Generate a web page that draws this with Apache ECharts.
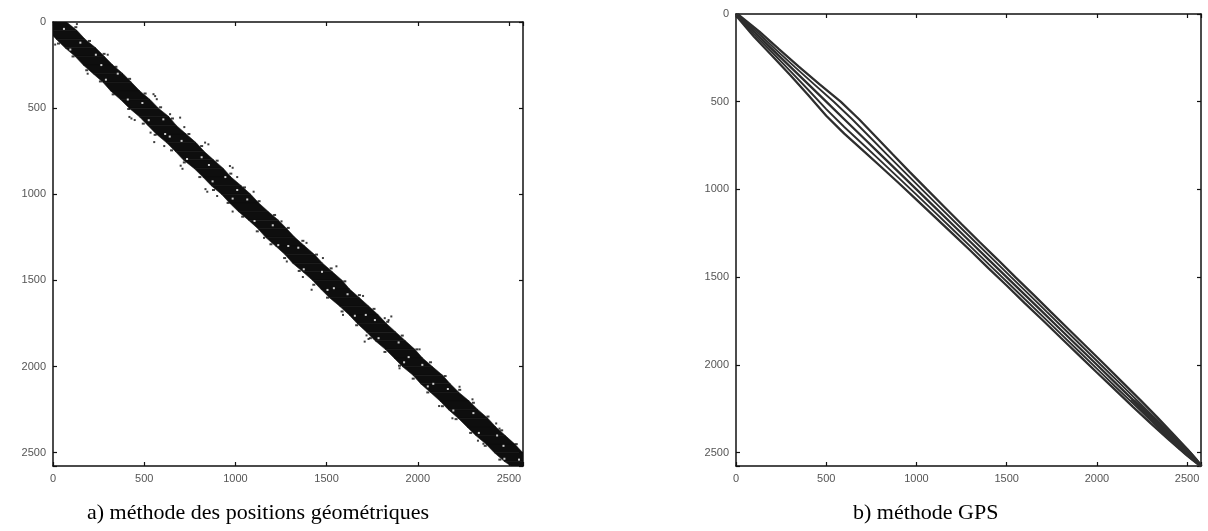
<!DOCTYPE html>
<html>
<head>
<meta charset="utf-8">
<script src="https://cdn.jsdelivr.net/npm/echarts@6/dist/echarts.min.js"></script>
<style>
html, body { margin: 0; padding: 0; background: #fff; }
#chart { width: 1208px; height: 531px; }
</style>
</head>
<body>
<div id="chart"></div>
<script>
// taille de la matrice (n x n)
const N = 2577
const tickValues = [0, 500, 1000, 1500, 2000, 2500]

// a) positions géométriques : demi-largeurs de la bande (à gauche / à droite de la diagonale)
const bandRowsA = [0, 50, 100, 150, 200, 250, 300, 350, 400, 450, 500, 550, 600, 650, 700, 750, 800, 850, 900, 950,
  1000, 1050, 1100, 1150, 1200, 1250, 1300, 1350, 1400, 1450, 1500, 1550, 1600, 1650, 1700, 1750, 1800, 1850, 1900,
  1950, 2000, 2050, 2100, 2150, 2200, 2250, 2300, 2350, 2400, 2450, 2500, 2550, 2577]
const bandLoA = [40, 76, 82, 84, 78, 84, 80, 76, 84, 80, 82, 76, 80, 84, 78, 80, 86, 76, 78, 82,
  76, 82, 84, 78, 76, 84, 80, 78, 86, 80, 76, 82, 84, 78, 76, 82, 80, 84, 78,
  80, 84, 76, 84, 80, 78, 82, 78, 80, 82, 76, 80, 76, 66]
const bandHiA = [74, 82, 76, 84, 82, 78, 84, 80, 76, 82, 78, 86, 76, 80, 84, 78, 80, 84, 76, 82,
  84, 78, 80, 86, 82, 76, 80, 84, 78, 82, 86, 76, 80, 82, 84, 78, 80, 82, 84,
  76, 80, 86, 78, 76, 82, 80, 84, 78, 80, 82, 76, 78, 50]
// termes isolés hors bande (triangle supérieur : [colonne, ligne])
const outliersA = [
  [131, 12], [551, 419], [569, 448], [560, 430], [642, 535], [697, 555], [852, 710], [834, 700],
  [970, 836], [985, 846], [1253, 1157], [1390, 1282], [1554, 1418], [1819, 1719], [1855, 1709],
  [1840, 1730], [2229, 2117], [2430, 2330], [2448, 2360], [720, 610], [1100, 985], [1700, 1590],
  [300, 190], [1010, 900], [1480, 1370], [2010, 1900], [2300, 2190]
]
// termes en bordure de bande (triangle supérieur)
const fringeA = [
  [125, 30], [200, 110], [280, 185], [345, 260], [420, 330], [505, 415], [590, 495], [655, 560], [745, 650],
  [815, 720], [900, 805], [975, 880], [1050, 960], [1130, 1040], [1215, 1120], [1290, 1195], [1370, 1270],
  [1445, 1350], [1525, 1430], [1600, 1505], [1680, 1585], [1760, 1665], [1835, 1740], [1915, 1820],
  [1995, 1900], [2070, 1975], [2150, 2055], [2230, 2135], [2305, 2210], [2385, 2290], [2460, 2370], [2540, 2450]
]
// trous (termes nuls) à l'intérieur de la bande : [colonne, ligne]
const holesA = [
  [60, 40], [150, 120], [95, 160], [235, 190], [290, 335], [355, 300], [410, 450], [490, 470], [525, 570],
  [605, 565], [615, 650], [705, 690], [735, 795], [855, 830], [875, 925], [945, 900], [985, 1025],
  [1065, 1030], [1105, 1155], [1205, 1180], [1235, 1295], [1345, 1310], [1375, 1435], [1475, 1450],
  [1505, 1555], [1615, 1580], [1655, 1705], [1765, 1730], [1785, 1835], [1895, 1860], [1925, 1975],
  [2025, 1990], [2055, 2115], [2165, 2130], [2195, 2255], [2305, 2270], [2335, 2385], [2435, 2400],
  [2475, 2535], [2555, 2540], [265, 250], [640, 665], [1010, 975], [1290, 1300], [1715, 1700],
  [2085, 2100], [2470, 2460], [815, 785], [1540, 1545], [1950, 1945]
]

// b) méthode GPS : demi-largeurs des diagonales extérieure / intérieure
const gpsRows  = [0, 100, 200, 300, 400, 500, 600, 700, 800, 900, 1000, 1100, 1200, 1300, 1400, 1500, 1600, 1700,
  1800, 1900, 2000, 2100, 2200, 2300, 2400, 2500, 2577]
const gpsOuter = [8, 30, 38, 48, 62, 80, 82, 75, 68, 62, 58, 55, 52, 50, 50, 48, 48, 46, 46, 45, 44, 42, 40, 35, 28, 18, 4]
const gpsInner = [3, 14, 18, 24, 32, 42, 44, 40, 36, 33, 30, 28, 27, 26, 26, 25, 25, 24, 24, 23, 22, 22, 20, 18, 14, 9, 2]
// partie pleine en fin de matrice
const gpsTailRows = [2200, 2300, 2400, 2480, 2540, 2577]
const gpsTailHalf = [12, 22, 28, 26, 18, 8]

const chart = echarts.init(document.getElementById('chart'))

// quadrilatères entre deux lignes échantillonnées
const segments = (rows, lo, hi) => {
  const out = []
  for (let i = 0; i < rows.length - 1; i++) {
    const r0 = rows[i]
    const r1 = rows[i + 1]
    out.push([r0, r1, r0 - lo[i], r0 + hi[i], r1 - lo[i + 1], r1 + hi[i + 1]])
  }
  return out
}

const bandSeries = (data, axisIndex, color) => ({
  type: 'custom',
  xAxisIndex: axisIndex,
  yAxisIndex: axisIndex,
  clip: true,
  silent: true,
  data: data,
  renderItem: (params, api) => {
    const r0 = api.value(0)
    const r1 = api.value(1)
    const pts = [
      api.coord([api.value(2), r0]),
      api.coord([api.value(3), r0]),
      api.coord([api.value(5), r1]),
      api.coord([api.value(4), r1])
    ]
    return {
      type: 'polygon',
      shape: { points: pts },
      style: { fill: color, stroke: color, lineWidth: 0.6 }
    }
  }
})

const lineSeries = (pts, width) => ({
  type: 'line',
  xAxisIndex: 2,
  yAxisIndex: 2,
  data: pts,
  symbol: 'none',
  silent: true,
  clip: true,
  lineStyle: { color: '#2e2e2e', width: width }
})

const dotSeries = (pts, color, size) => ({
  type: 'scatter',
  xAxisIndex: 0,
  yAxisIndex: 0,
  symbol: 'rect',
  symbolSize: size,
  silent: true,
  itemStyle: { color: color },
  data: pts
})

const upper = (offs) => gpsRows.map((r, i) => [r + offs[i], r])
const lower = (offs) => gpsRows.map((r, i) => [r, r + offs[i]])
const mirror = (pts) => pts.map(([c, r]) => [r, c])

const labelFmt = (v) => (tickValues.includes(v) ? String(v) : '')

const makeAxes = (gridIndex) => {
  const base = {
    type: 'value',
    gridIndex: gridIndex,
    min: 0,
    max: N,
    interval: 500,
    splitLine: { show: false },
    axisLine: { show: true, onZero: false, lineStyle: { color: '#111', width: 1.5 } },
    axisTick: { show: true, inside: true, length: 4, lineStyle: { color: '#111', width: 1.2 } },
    axisLabel: {
      show: true,
      formatter: labelFmt,
      color: '#555',
      fontSize: 11,
      fontFamily: 'Liberation Sans',
      margin: 7
    }
  }
  const x1 = Object.assign({}, base, { position: 'bottom' })
  const x2 = Object.assign({}, base, { position: 'top', axisLabel: { show: false } })
  const y1 = Object.assign({}, base, { position: 'left', inverse: true })
  const y2 = Object.assign({}, base, { position: 'right', inverse: true, axisLabel: { show: false } })
  return { x: [x1, x2], y: [y1, y2] }
}

const axA = makeAxes(0)
const axB = makeAxes(1)

const captionStyle = { fontFamily: 'Liberation Serif', fontSize: 22, fontWeight: 'normal', color: '#000' }

const option = {
  animation: false,
  backgroundColor: '#fff',
  title: [
    { text: 'a) méthode des positions géométriques', left: 82, top: 497, textStyle: captionStyle },
    { text: 'b) méthode GPS', left: 848, top: 497, textStyle: captionStyle }
  ],
  grid: [
    { left: 53, top: 22, width: 470, height: 444 },
    { left: 736, top: 14, width: 465, height: 452 }
  ],
  xAxis: [...axA.x, ...axB.x],
  yAxis: [...axA.y, ...axB.y],
  series: [
    bandSeries(segments(bandRowsA, bandLoA, bandHiA), 0, '#0e0e0e'),
    dotSeries(holesA, '#ffffff', 2),
    dotSeries(fringeA.concat(mirror(fringeA)), '#0e0e0e', [3, 2]),
    dotSeries(outliersA.concat(mirror(outliersA)), '#0e0e0e', 2),
    lineSeries(gpsRows.map((r) => [r, r]), 2.3),
    lineSeries(upper(gpsOuter), 2.3),
    lineSeries(lower(gpsOuter), 2.3),
    lineSeries(upper(gpsInner), 1.9),
    lineSeries(lower(gpsInner), 1.9),
    bandSeries(segments(gpsTailRows, gpsTailHalf, gpsTailHalf), 2, '#2e2e2e')
  ]
}

chart.setOption(option)
</script>
</body>
</html>
